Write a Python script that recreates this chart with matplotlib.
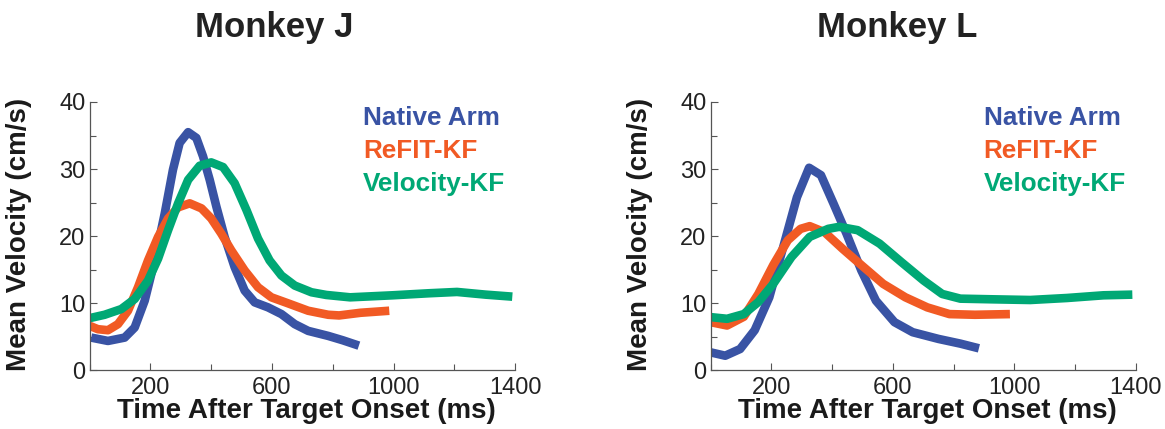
import matplotlib.pyplot as plt
from matplotlib.ticker import MultipleLocator, FixedLocator

plt.rcParams['font.family'] = ['Liberation Sans', 'DejaVu Sans']

# mean hand/cursor speed traces (cm/s vs ms), monkey J
j_arm_t = [5, 60, 115, 148, 181, 214, 247, 274, 296, 324, 351, 373, 395, 417, 444, 477, 510, 543,
           587, 631, 675, 719, 785, 833, 886]
j_arm_v = [4.9, 4.4, 4.9, 6.4, 10.4, 16.4, 23.4, 29.9, 33.9, 35.5, 34.65, 31.9, 28.4, 24.4, 19.9, 15.4,
           11.9, 10.15, 9.4, 8.4, 6.9, 5.9, 5.15, 4.5, 3.7]
j_refit_t = [0, 27, 60, 93, 126, 159, 192, 225, 258, 291, 329, 368, 400, 433, 466, 510, 554, 598,
             653, 719, 785, 821, 892, 986]
j_refit_v = [6.65, 6.15, 6.0, 6.9, 8.9, 12.4, 16.4, 19.9, 22.65, 24.3, 24.9, 24.15, 22.65, 20.4, 17.9,
             14.9, 12.4, 10.9, 10.0, 8.9, 8.3, 8.2, 8.6, 8.9]
j_vkf_t = [0, 49, 104, 148, 192, 225, 258, 291, 324, 362, 400, 439, 477, 516, 554, 592, 631, 675,
           730, 779, 857, 997, 1115, 1209, 1303, 1391]
j_vkf_v = [7.8, 8.3, 9.15, 10.65, 13.4, 16.65, 20.9, 24.9, 28.4, 30.5, 31.0, 30.3, 27.9, 23.9, 19.65,
           16.4, 14.15, 12.65, 11.65, 11.25, 10.9, 11.2, 11.5, 11.7, 11.3, 11.0]

# monkey L
l_arm_t = [0, 48, 97, 145, 193, 242, 284, 324, 363, 405, 447, 496, 544, 605, 665, 750, 822, 883]
l_arm_v = [2.7, 2.2, 3.2, 6.0, 10.9, 18.9, 25.8, 30.2, 29.1, 24.8, 20.4, 14.9, 10.4, 7.2, 5.7, 4.7, 4.0, 3.3]
l_refit_t = [0, 54, 109, 157, 206, 254, 296, 326, 375, 435, 496, 568, 641, 713, 786, 870, 985]
l_refit_v = [7.2, 6.7, 8.0, 11.4, 15.7, 19.4, 21.1, 21.5, 20.6, 18.1, 15.7, 12.9, 10.9, 9.4, 8.4, 8.3, 8.4]
l_vkf_t = [0, 54, 109, 157, 206, 266, 326, 387, 423, 484, 556, 629, 701, 762, 822, 931, 1052, 1173, 1293, 1388]
l_vkf_v = [7.95, 7.7, 8.4, 10.2, 12.9, 16.9, 19.9, 21.1, 21.4, 20.9, 18.9, 16.1, 13.4, 11.4, 10.7, 10.6,
           10.5, 10.8, 11.2, 11.3]

names = ['Native Arm', 'ReFIT-KF', 'Velocity-KF']
colors = ['#3953a4', '#f15a24', '#00a875']

panels = [
    ('Monkey J', [(j_arm_t, j_arm_v), (j_refit_t, j_refit_v), (j_vkf_t, j_vkf_v)],
     [0.077, 0.1364, 0.3651, 0.6259], 0.2352),
    ('Monkey L', [(l_arm_t, l_arm_v), (l_refit_t, l_refit_v), (l_vkf_t, l_vkf_v)],
     [0.610, 0.1364, 0.3651, 0.6259], 0.770),
]

fig = plt.figure(figsize=(11.65, 4.29), dpi=100)

for title, series, rect, title_x in panels:
    ax = fig.add_axes(rect)
    for (t, v), c in zip(series, colors):
        ax.plot(t, v, color=c, lw=6.2, solid_joinstyle='round', solid_capstyle='butt')
    ax.set_xlim(0, 1400)
    ax.set_ylim(0, 40)
    ax.xaxis.set_major_locator(FixedLocator([200, 600, 1000, 1400]))
    ax.xaxis.set_minor_locator(MultipleLocator(200))
    ax.yaxis.set_major_locator(MultipleLocator(10))
    ax.yaxis.set_minor_locator(MultipleLocator(5))
    ax.tick_params(which='both', direction='in', color='#555555', width=0.8,
                   labelsize=17, labelcolor='#222222')
    ax.tick_params(which='major', length=5)
    ax.tick_params(which='minor', length=4)
    ax.tick_params(axis='x', pad=5)
    ax.tick_params(axis='y', pad=3)
    for s in ['top', 'right']:
        ax.spines[s].set_visible(False)
    for s in ['left', 'bottom']:
        ax.spines[s].set_color('#555555')
        ax.spines[s].set_linewidth(0.9)
    ax.set_xlabel('Time After Target Onset (ms)', fontsize=20, fontweight='bold', color='#1a1a1a')
    ax.set_ylabel('Mean Velocity (cm/s)', fontsize=20, fontweight='bold', color='#1a1a1a')
    ax.xaxis.set_label_coords(0.509, -0.103)
    ax.yaxis.set_label_coords(-0.135, 0.505)
    fig.text(title_x, 0.9138, title, fontsize=25, fontweight='bold', color='#222222',
             ha='center', va='baseline')
    for i, (name, c) in enumerate(zip(names, colors)):
        ax.text(0.642, 0.9143 - i * 0.1229, name, color=c, fontsize=18.8, fontweight='bold',
                transform=ax.transAxes, va='baseline', ha='left')

fig.savefig('out.png', dpi=100)
